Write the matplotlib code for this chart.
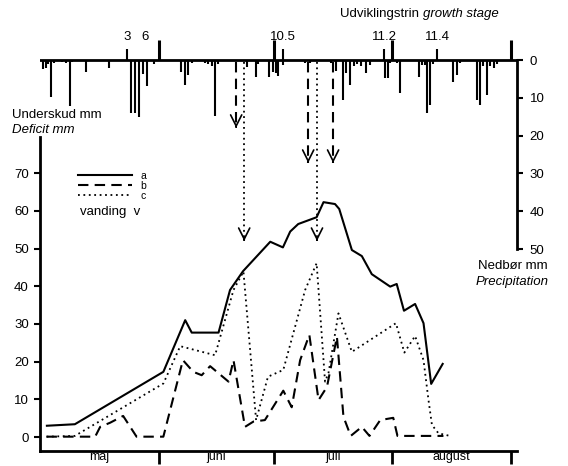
import matplotlib.pyplot as plt

plt.rcParams['font.family'] = ['Liberation Sans', 'DejaVu Sans']
plt.rcParams['font.size'] = 9.5

# x = days after 1 May

# deficit a (solid)
a_days = [1.8, 9.1, 32.2, 37.9, 39.6, 46.6, 49.6, 53.0, 60.1, 63.4, 65.3, 67.4, 72.2,
          74.0, 77.0, 78.1, 81.4, 84.0, 86.6, 91.4, 93.1, 95.0, 97.9, 100.1, 102.1, 105.1]
a_mm = [3.0, 3.4, 17.3, 31.0, 27.7, 27.7, 39.0, 44.0, 51.8, 50.3, 54.5, 56.5, 58.3,
        62.3, 61.8, 60.5, 49.6, 48.0, 43.2, 39.9, 40.6, 33.5, 35.3, 30.2, 14.1, 19.4]

# deficit b (dashed)
b_days = [1.7, 14.4, 15.7, 18.3, 21.7, 25.2, 32.2, 37.3, 40.0, 42.2, 44.4, 49.2, 50.5,
          53.5, 55.7, 58.7, 63.5, 65.7, 67.9, 70.3, 72.7, 74.9, 77.5, 79.2, 81.1, 84.0,
          86.0, 88.8, 92.2, 93.3, 105.3]
b_mm = [0.1, 0.1, 2.7, 3.8, 5.6, 0.1, 0.1, 20.4, 17.3, 16.4, 18.8, 14.7, 20.4,
        2.7, 4.1, 4.5, 12.3, 7.9, 20.4, 27.1, 9.8, 13.3, 26.6, 5.4, 0.3, 2.7,
        0.3, 4.5, 5.1, 0.3, 0.3]

# deficit c (dotted)
c_days = [1.7, 9.1, 32.2, 36.6, 45.7, 50.5, 53.1, 56.4, 59.5, 63.5, 69.2, 72.2, 74.4,
          75.3, 77.9, 81.4, 92.9, 95.1, 97.9, 100.1, 101.4, 102.3, 104.0, 107.0]
c_mm = [0.1, 0.3, 14.2, 24.1, 21.7, 39.0, 43.9, 4.5, 16.0, 17.8, 39.0, 46.1, 14.7,
        17.0, 32.8, 22.6, 30.2, 22.4, 26.8, 20.4, 9.8, 3.2, 1.0, 0.3]

# irrigation (vanding) arrows
irr_b_days = [51.2, 70.0, 76.5]
irr_b_tip = [82.0, 72.7, 72.7]
irr_c_days = [53.3, 72.3]
irr_c_tip = [52.0, 52.0]

# precipitation
p_days = [0.8, 1.5, 2.2, 2.8, 3.7, 5.7, 6.8, 7.8, 8.4, 12.0, 18.0, 23.8, 24.8, 25.8,
          26.8, 27.9, 29.8, 36.8, 37.9, 38.7, 39.6, 43.1, 43.9, 44.8, 45.7, 46.5, 54.0,
          56.4, 57.0, 59.9, 60.9, 61.6, 62.2, 63.4, 69.2, 70.5, 76.0, 77.2, 79.0, 79.9,
          80.9, 82.0, 82.8, 83.7, 85.1, 86.2, 90.1, 90.7, 91.4, 93.1, 94.0, 98.8, 99.7,
          100.5, 101.0, 101.8, 102.7, 107.7, 108.8, 109.7, 114.0, 114.9, 115.7, 116.8,
          117.5, 118.4, 119.2]
p_mm = [2.5, 2.0, 1.0, 9.7, 0.8, 0.5, 0.8, 12.1, 0.6, 3.1, 2.0, 13.9, 13.9, 15.0,
        3.7, 6.9, 1.0, 3.1, 6.6, 4.0, 0.8, 0.8, 1.0, 1.5, 14.8, 1.0, 1.8,
        4.4, 1.0, 4.4, 3.1, 3.5, 4.2, 1.3, 0.7, 0.8, 0.7, 3.0, 10.5, 3.5,
        6.6, 1.5, 1.0, 1.5, 3.5, 1.2, 4.8, 4.8, 0.8, 0.8, 8.8, 4.4, 1.2,
        1.2, 14.1, 11.9, 1.0, 5.7, 4.0, 0.8, 10.6, 11.9, 1.5, 9.3,
        1.5, 2.0, 1.0]

# growth stages
stage_days = [22.7, 63.4, 89.8, 103.7]
stage_labels = ['3', '10.5', '11.2', '11.4']

months = ['maj', 'juni', 'juli', 'august']
month_mid = [15.5, 46.0, 76.5, 107.5]
month_end = [31, 61, 92, 123]

fig = plt.figure(figsize=(5.68, 4.66), dpi=100)
ax = fig.add_axes([40/568, 15/466, 477/568, 421/466])
ax.set_xlim(0, 124.5)
ax.set_ylim(-3.7, 107.96)

la, = ax.plot(a_days, a_mm, color='k', lw=1.5)
lb, = ax.plot(b_days, b_mm, color='k', lw=1.5, ls=(0, (5, 3)))
lc, = ax.plot(c_days, c_mm, color='k', lw=1.3, ls=(0, (1, 2)))

for d, tip in zip(irr_b_days, irr_b_tip):
    ax.plot([d, d], [99.5, tip], color='k', lw=1.5, ls=(0, (5, 3)))
    ax.annotate('', xy=(d, tip), xytext=(d, tip + 0.3),
                arrowprops=dict(arrowstyle='->', color='k', lw=1.2,
                                mutation_scale=20, shrinkA=0, shrinkB=0))
for d, tip in zip(irr_c_days, irr_c_tip):
    ax.plot([d, d], [99.5, tip], color='k', lw=1.3, ls=(0, (1, 2)))
    ax.annotate('', xy=(d, tip), xytext=(d, tip + 0.3),
                arrowprops=dict(arrowstyle='->', color='k', lw=1.2,
                                mutation_scale=20, shrinkA=0, shrinkB=0))

for s in ['top', 'right']:
    ax.spines[s].set_visible(False)
ax.spines['left'].set_bounds(-3.7, 79.6)
ax.spines['left'].set_linewidth(2)
ax.spines['bottom'].set_linewidth(2)
ax.set_yticks(range(0, 80, 10))
ax.tick_params(axis='y', length=4, width=1.5, pad=4)
ax.set_xticks(month_end)
ax.set_xticklabels([])
ax.tick_params(axis='x', which='major', length=9, width=2)
ax.set_xticks(month_mid, minor=True)
ax.set_xticklabels(months, minor=True)
ax.tick_params(axis='x', which='minor', length=0, pad=0, labelsize=9)

# precipitation axis on top, inverted
ax2 = ax.twinx()
ax2.set_ylim(103.4, -7.94)
for s in ['top', 'left', 'bottom']:
    ax2.spines[s].set_visible(False)
ax2.spines['right'].set_bounds(0, 50)
ax2.spines['right'].set_linewidth(2)
ax2.set_yticks(range(0, 60, 10))
ax2.tick_params(axis='y', length=4, width=1.5, pad=5)

ax2.hlines(0, -1, 124.5, color='k', lw=2)
ax2.vlines(p_days, 0, p_mm, color='k', lw=1.5)
ax2.vlines(stage_days, -3.0, 0, color='k', lw=1.5)
ax2.vlines(month_end, -5.3, 0, color='k', lw=2.2)
for d, lab in zip(stage_days, stage_labels):
    ax2.text(d, -4.5, lab, ha='center', va='bottom')
ax2.text(27.4, -4.5, '6', ha='center', va='bottom')

ax.legend([la, lb, lc], ['a', 'b', 'c'], loc='upper left',
          bbox_to_anchor=(78/568, 1 - 171/466), bbox_transform=fig.transFigure,
          frameon=False, fontsize=7.5, handlelength=5.2, handletextpad=0.8,
          labelspacing=0.0, borderpad=0, borderaxespad=0)
fig.text(80/568, 1 - 212/466, 'vanding  v', va='center')

fig.text(12/568, 1 - 115/466, 'Underskud mm', va='center')
fig.text(12/568, 1 - 130/466, 'Deficit mm', va='center', style='italic')
fig.text(478/568, 1 - 266/466, 'Nedbør mm', va='center')
fig.text(476/568, 1 - 282/466, 'Precipitation', va='center', style='italic')
t = fig.text(340/568, 1 - 14/466, 'Udviklingstrin ', va='center')
ax.annotate('growth stage', xy=(1, 0.5), xycoords=t, va='center', ha='left',
            style='italic')

fig.savefig('out.png', dpi=100)
